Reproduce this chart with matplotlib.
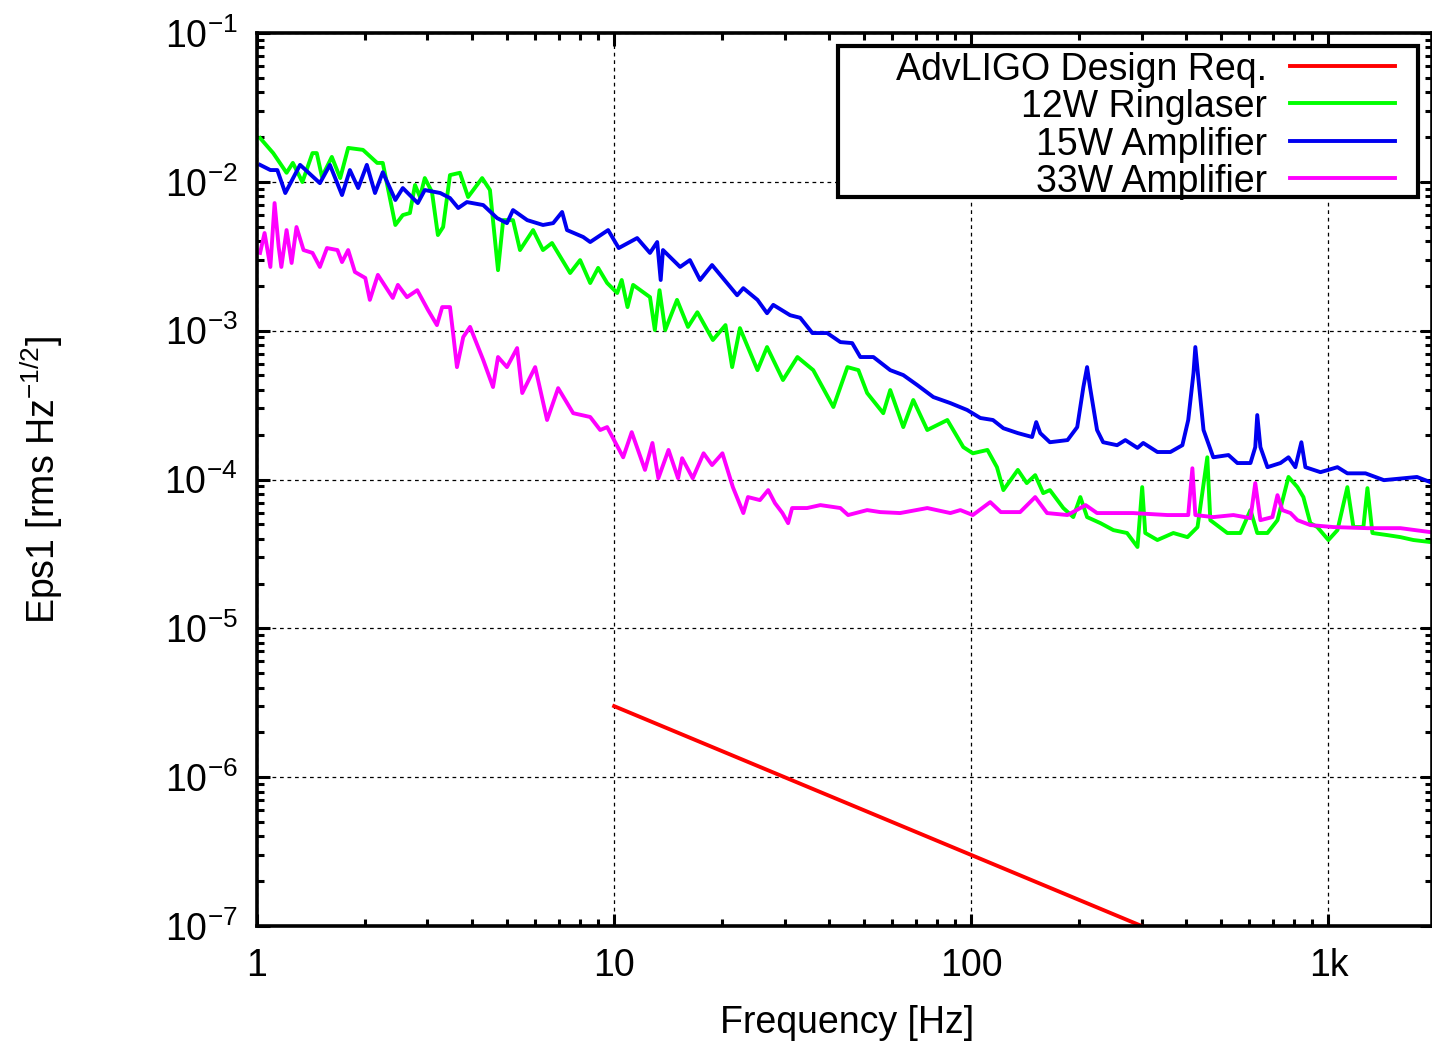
import numpy as np
import matplotlib
matplotlib.use("Agg")
import matplotlib.pyplot as plt
from matplotlib import ticker
from matplotlib.patches import Rectangle
from matplotlib.lines import Line2D

# ---------------------------------------------------------------------------
# Data: relative power noise spectra (Eps1, rms Hz^-1/2) versus frequency (Hz)
# ---------------------------------------------------------------------------
req_freq = [10, 300]
req_eps = [3.0e-6, 1.0e-7]

ring_freq = [1.02, 1.11, 1.21, 1.26, 1.34, 1.43, 1.47, 1.52, 1.62, 1.71,
             1.80, 1.98, 2.17, 2.25, 2.44, 2.56, 2.68, 2.77, 2.86, 2.95,
             3.09, 3.21, 3.32, 3.47, 3.70, 3.90, 4.27, 4.49, 4.73, 4.89,
             5.21, 5.45, 5.93, 6.32, 6.70, 7.53, 8.03, 8.57, 9.02, 9.56,
             10.2, 10.5, 10.9, 11.3, 12.6, 13.0, 13.4, 13.9, 15.0, 16.1,
             17.1, 18.9, 20.5, 21.4, 22.5, 25.2, 26.8, 29.7, 32.6, 36.1,
             41.1, 45.0, 48.3, 51.1, 56.7, 59.3, 64.5, 68.8, 75.3, 85.7,
             95.0, 101, 111, 118, 123, 135, 143, 151, 159, 166,
             181, 193, 202, 211, 230, 250, 273, 292, 301, 307,
             332, 368, 403, 430, 458, 467, 521, 567, 605, 632,
             675, 720, 773, 819, 851, 890, 931, 1000, 1060, 1130,
             1175, 1253, 1286, 1328, 1463, 1591, 1730, 1930]
ring_eps = [1.97e-2, 1.56e-2, 1.15e-2, 1.34e-2, 9.97e-3, 1.56e-2, 1.56e-2, 1.08e-2, 1.47e-2, 1.06e-2,
            1.69e-2, 1.64e-2, 1.34e-2, 1.34e-2, 5.13e-3, 5.98e-3, 6.17e-3, 9.52e-3, 7.91e-3, 1.06e-2,
            8.54e-3, 4.39e-3, 4.97e-3, 1.11e-2, 1.15e-2, 7.91e-3, 1.06e-2, 8.81e-3, 2.55e-3, 5.53e-3,
            5.53e-3, 3.48e-3, 4.74e-3, 3.48e-3, 3.88e-3, 2.44e-3, 2.98e-3, 2.09e-3, 2.64e-3, 2.09e-3,
            1.79e-3, 2.19e-3, 1.44e-3, 2.03e-3, 1.68e-3, 1.01e-3, 1.87e-3, 1.01e-3, 1.61e-3, 1.06e-3,
            1.33e-3, 8.65e-4, 1.09e-3, 5.69e-4, 1.04e-3, 5.43e-4, 7.76e-4, 4.66e-4, 6.65e-4, 5.43e-4,
            3.07e-4, 5.69e-4, 5.43e-4, 3.81e-4, 2.79e-4, 3.99e-4, 2.25e-4, 3.42e-4, 2.15e-4, 2.51e-4,
            1.65e-4, 1.50e-4, 1.58e-4, 1.21e-4, 8.49e-5, 1.16e-4, 9.46e-5, 1.07e-4, 8.10e-5, 8.49e-5,
            6.43e-5, 5.59e-5, 7.62e-5, 5.59e-5, 5.09e-5, 4.57e-5, 4.37e-5, 3.52e-5, 8.89e-5, 4.37e-5,
            3.92e-5, 4.37e-5, 4.10e-5, 4.79e-5, 1.41e-4, 5.33e-5, 4.37e-5, 4.37e-5, 6.23e-5, 4.37e-5,
            4.37e-5, 5.33e-5, 1.04e-4, 8.89e-5, 7.62e-5, 5.09e-5, 4.79e-5, 3.92e-5, 4.57e-5, 8.89e-5,
            4.79e-5, 4.79e-5, 8.75e-5, 4.37e-5, 4.23e-5, 4.10e-5, 3.92e-5, 3.80e-5]

amp15_freq = [1.02, 1.09, 1.14, 1.20, 1.32, 1.50, 1.60, 1.73, 1.82, 1.92,
              2.03, 2.14, 2.25, 2.44, 2.56, 2.82, 2.95, 3.26, 3.47, 3.66,
              3.87, 4.30, 4.70, 5.01, 5.21, 5.71, 6.32, 6.75, 7.15, 7.38,
              8.19, 8.57, 9.62, 10.3, 11.6, 12.6, 13.2, 13.5, 13.7, 15.3,
              16.3, 17.4, 18.8, 20.7, 22.1, 23.0, 25.2, 26.8, 27.9, 31.1,
              33.2, 35.9, 39.5, 43.0, 46.4, 48.9, 53.2, 59.3, 64.5, 70.6,
              78.3, 87.4, 97.4, 106, 115, 123, 135, 148, 152, 156,
              166, 186, 198, 206, 211, 215, 225, 234, 256, 270,
              292, 303, 332, 361, 390, 405, 419, 424, 432, 447,
              476, 525, 556, 605, 624, 632, 645, 675, 734, 773,
              808, 840, 862, 950, 1060, 1130, 1270, 1430, 1770, 1930]
amp15_eps = [1.30e-2, 1.20e-2, 1.20e-2, 8.41e-3, 1.30e-2, 9.80e-3, 1.30e-2, 8.15e-3, 1.20e-2, 9.08e-3,
             1.30e-2, 8.41e-3, 1.16e-2, 7.55e-3, 9.08e-3, 7.20e-3, 8.81e-3, 8.41e-3, 7.78e-3, 6.67e-3,
             7.31e-3, 6.98e-3, 5.71e-3, 5.28e-3, 6.46e-3, 5.53e-3, 5.13e-3, 5.28e-3, 6.27e-3, 4.74e-3,
             4.26e-3, 3.94e-3, 4.74e-3, 3.59e-3, 4.19e-3, 3.33e-3, 3.94e-3, 2.19e-3, 3.48e-3, 2.68e-3,
             2.98e-3, 2.19e-3, 2.76e-3, 2.09e-3, 1.73e-3, 1.93e-3, 1.61e-3, 1.31e-3, 1.49e-3, 1.27e-3,
             1.22e-3, 9.64e-4, 9.64e-4, 8.38e-4, 8.25e-4, 6.65e-4, 6.65e-4, 5.43e-4, 5.03e-4, 4.31e-4,
             3.58e-4, 3.26e-4, 2.93e-4, 2.59e-4, 2.51e-4, 2.21e-4, 2.05e-4, 1.93e-4, 2.43e-4, 2.05e-4,
             1.78e-4, 1.84e-4, 2.25e-4, 4.18e-4, 5.69e-4, 4.18e-4, 2.15e-4, 1.78e-4, 1.70e-4, 1.84e-4,
             1.63e-4, 1.76e-4, 1.53e-4, 1.53e-4, 1.70e-4, 2.51e-4, 5.19e-4, 7.76e-4, 4.88e-4, 2.15e-4,
             1.41e-4, 1.46e-4, 1.29e-4, 1.29e-4, 1.65e-4, 2.71e-4, 1.65e-4, 1.21e-4, 1.29e-4, 1.41e-4,
             1.21e-4, 1.78e-4, 1.21e-4, 1.12e-4, 1.21e-4, 1.10e-4, 1.10e-4, 9.90e-5, 1.04e-4, 9.60e-5]

amp33_freq = [1.02, 1.05, 1.09, 1.12, 1.15, 1.17, 1.21, 1.25, 1.29, 1.35,
              1.43, 1.50, 1.57, 1.68, 1.73, 1.80, 1.88, 2.01, 2.07, 2.18,
              2.40, 2.48, 2.63, 2.81, 3.01, 3.19, 3.30, 3.47, 3.54, 3.63,
              3.78, 3.95, 4.30, 4.58, 4.73, 5.01, 5.35, 5.53, 6.01, 6.49,
              6.97, 7.68, 8.57, 9.14, 9.56, 10.6, 11.2, 12.2, 12.8, 13.3,
              14.2, 15.1, 15.5, 16.6, 17.8, 18.8, 20.1, 21.5, 23.0, 23.7,
              25.6, 27.0, 28.2, 29.6, 30.7, 31.5, 34.7, 37.8, 43.0, 45.2,
              51.1, 55.6, 63.2, 75.3, 87.4, 93.2, 101, 113, 121, 137,
              151, 163, 186, 209, 225, 284, 354, 405, 416, 424,
              476, 542, 605, 624, 645, 697, 720, 743, 783, 819,
              890, 1033, 1286, 1591, 1930]
amp33_eps = [3.33e-3, 4.53e-3, 2.68e-3, 7.20e-3, 3.65e-3, 2.68e-3, 4.74e-3, 2.85e-3, 4.97e-3, 3.48e-3,
             3.33e-3, 2.68e-3, 3.59e-3, 3.48e-3, 2.89e-3, 3.48e-3, 2.48e-3, 2.26e-3, 1.61e-3, 2.37e-3,
             1.66e-3, 2.03e-3, 1.68e-3, 1.87e-3, 1.38e-3, 1.09e-3, 1.44e-3, 1.44e-3, 9.64e-4, 5.69e-4,
             9.06e-4, 1.06e-3, 6.35e-4, 4.18e-4, 6.65e-4, 5.69e-4, 7.64e-4, 3.81e-4, 5.69e-4, 2.51e-4,
             4.11e-4, 2.79e-4, 2.63e-4, 2.15e-4, 2.25e-4, 1.41e-4, 2.08e-4, 1.16e-4, 1.76e-4, 1.02e-4,
             1.58e-4, 1.02e-4, 1.39e-4, 1.02e-4, 1.50e-4, 1.25e-4, 1.50e-4, 8.89e-5, 5.95e-5, 7.62e-5,
             7.27e-5, 8.49e-5, 6.94e-5, 5.95e-5, 5.09e-5, 6.43e-5, 6.43e-5, 6.73e-5, 6.43e-5, 5.77e-5,
             6.23e-5, 6.04e-5, 5.95e-5, 6.43e-5, 5.95e-5, 6.23e-5, 5.77e-5, 7.05e-5, 6.04e-5, 6.04e-5,
             7.62e-5, 5.95e-5, 5.77e-5, 6.73e-5, 5.95e-5, 5.95e-5, 5.77e-5, 5.77e-5, 1.19e-4, 5.77e-5,
             5.59e-5, 5.77e-5, 5.50e-5, 9.46e-5, 5.33e-5, 5.59e-5, 7.85e-5, 6.23e-5, 5.95e-5, 5.33e-5,
             4.94e-5, 4.79e-5, 4.71e-5, 4.71e-5, 4.43e-5]

series_labels = ["AdvLIGO Design Req.", "12W Ringlaser", "15W Amplifier", "33W Amplifier"]
series_colors = ["#ff0000", "#00ff00", "#0000f0", "#ff00ff"]

xtick_values = [1, 10, 100, 1000]
xtick_labels = ["1", "10", "100", "1k"]
ytick_values = [1e-7, 1e-6, 1e-5, 1e-4, 1e-3, 1e-2, 1e-1]
ytick_labels = [r"$10^{-7}$", r"$10^{-6}$", r"$10^{-5}$", r"$10^{-4}$",
                r"$10^{-3}$", r"$10^{-2}$", r"$10^{-1}$"]

# ---------------------------------------------------------------------------
# Style
# ---------------------------------------------------------------------------
plt.rcParams["font.family"] = ["Liberation Sans", "DejaVu Sans"]
plt.rcParams["mathtext.fontset"] = "custom"
plt.rcParams["mathtext.rm"] = "Liberation Sans"
plt.rcParams["mathtext.it"] = "Liberation Sans:italic"
plt.rcParams["mathtext.default"] = "regular"

FS = 27
LW = 2.8

fig = plt.figure(figsize=(14.32, 10.42), dpi=100)
ax = fig.add_axes([257 / 1432, 116 / 1042, 1175 / 1432, 893 / 1042])

series = [(req_freq, req_eps), (ring_freq, ring_eps),
          (amp15_freq, amp15_eps), (amp33_freq, amp33_eps)]
for (f, e), color in zip(series, series_colors):
    ax.plot(f, e, color=color, lw=LW, solid_joinstyle="round", zorder=3)

ax.set_xscale("log")
ax.set_yscale("log")
ax.set_xlim(1, 1950)
ax.set_ylim(1e-7, 1e-1)

ax.xaxis.set_major_locator(ticker.FixedLocator(xtick_values))
ax.xaxis.set_major_formatter(ticker.FixedFormatter(xtick_labels))
ax.xaxis.set_minor_locator(ticker.LogLocator(base=10, subs=range(2, 10), numticks=30))
ax.xaxis.set_minor_formatter(ticker.NullFormatter())
ax.yaxis.set_major_locator(ticker.FixedLocator(ytick_values))
ax.yaxis.set_major_formatter(ticker.FixedFormatter(ytick_labels))
ax.yaxis.set_minor_locator(ticker.LogLocator(base=10, subs=range(2, 10), numticks=30))
ax.yaxis.set_minor_formatter(ticker.NullFormatter())

ax.tick_params(which="both", direction="in", top=True, right=True,
               width=2.2, color="black", labelsize=FS)
ax.tick_params(which="major", length=9)
ax.tick_params(which="minor", length=5)
ax.tick_params(axis="x", which="major", pad=16)
ax.tick_params(axis="y", which="major", pad=14)

for s in ax.spines.values():
    s.set_linewidth(2.6)
    s.set_zorder(4)

ax.grid(True, which="major", color="black", linestyle=(0, (3, 3)), linewidth=0.9)
ax.set_axisbelow(True)

ax.set_xlabel("Frequency [Hz]", fontsize=FS)
ax.xaxis.set_label_coords(0.502, -0.089)
ax.set_ylabel("Eps1 [rms Hz$^{-1/2}$]", fontsize=FS)
ax.yaxis.set_label_coords(-0.163, 0.5)

# Key box with right-aligned labels and line samples
box = Rectangle((0.4945, 0.8163), 0.988 - 0.4945, 0.9854 - 0.8163,
                transform=ax.transAxes, facecolor="white", edgecolor="black",
                lw=3, zorder=5)
ax.add_patch(box)
rows = [0.963, 0.9216, 0.879, 0.8376]
for label, color, y in zip(series_labels, series_colors, rows):
    ax.text(0.8593, y, label, transform=ax.transAxes, ha="right",
            va="center_baseline", fontsize=FS, zorder=6)
    ax.add_line(Line2D([0.879, 0.9685], [y, y], transform=ax.transAxes,
                       color=color, lw=LW, zorder=6))

fig.savefig("out.png", dpi=100)
